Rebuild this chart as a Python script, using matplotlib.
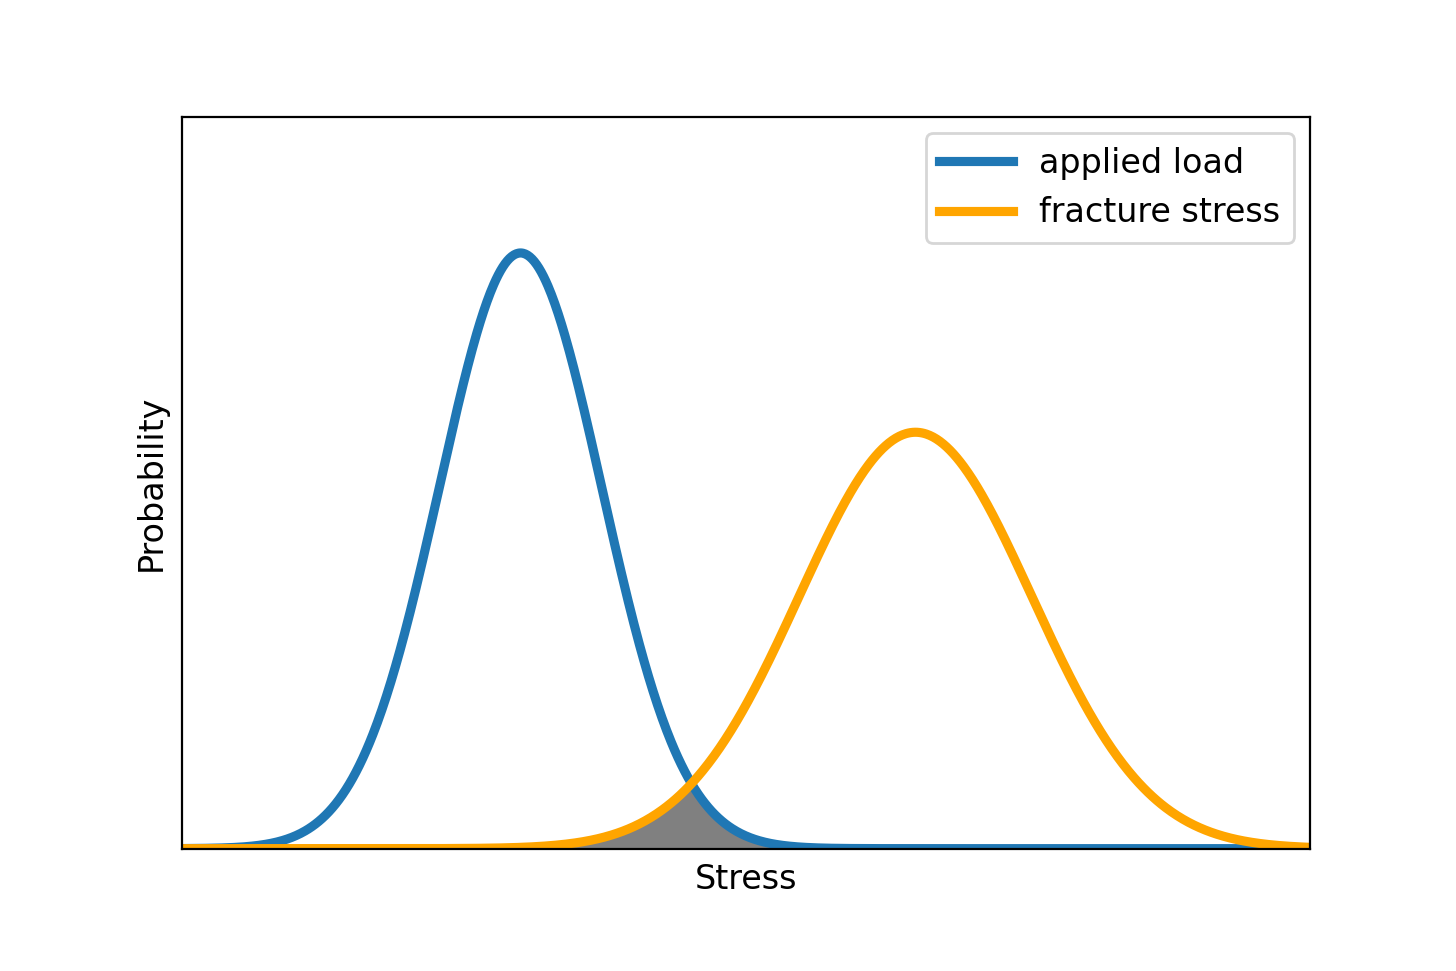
import numpy as np
import matplotlib
matplotlib.use("Agg")
import matplotlib.pyplot as plt

# Data: two normal distributions (parameters)
labels = ["applied load", "fracture stress"]
means = [3.0, 6.5]
sds = [0.72, 1.03]
x_min, x_max = 0.0, 10.0
y_max = 0.681

colors = ["#1f77b4", "orange"]

x = np.linspace(x_min, x_max, 1000)
curves = [np.exp(-0.5 * ((x - m) / s) ** 2) / (s * np.sqrt(2 * np.pi)) for m, s in zip(means, sds)]

fig = plt.figure(figsize=(7.28, 4.855), dpi=200)
ax = fig.add_axes([0.125, 0.126, 0.775, 0.754])

ax.fill_between(x, 0, np.minimum(curves[0], curves[1]), color="gray", zorder=1)
for c, lab, col in zip(curves, labels, colors):
    ax.plot(x, c, color=col, lw=3.3, label=lab, zorder=2)

ax.set_xlim(x_min, x_max)
ax.set_ylim(0, y_max)
ax.set_xticks([])
ax.set_yticks([])
ax.set_xlabel("Stress", fontsize=12, labelpad=5)
ax.set_ylabel("Probability", fontsize=12, labelpad=5)
ax.legend(loc="upper right", fontsize=12, handlelength=2.2)

fig.savefig("out.png", dpi=200)
